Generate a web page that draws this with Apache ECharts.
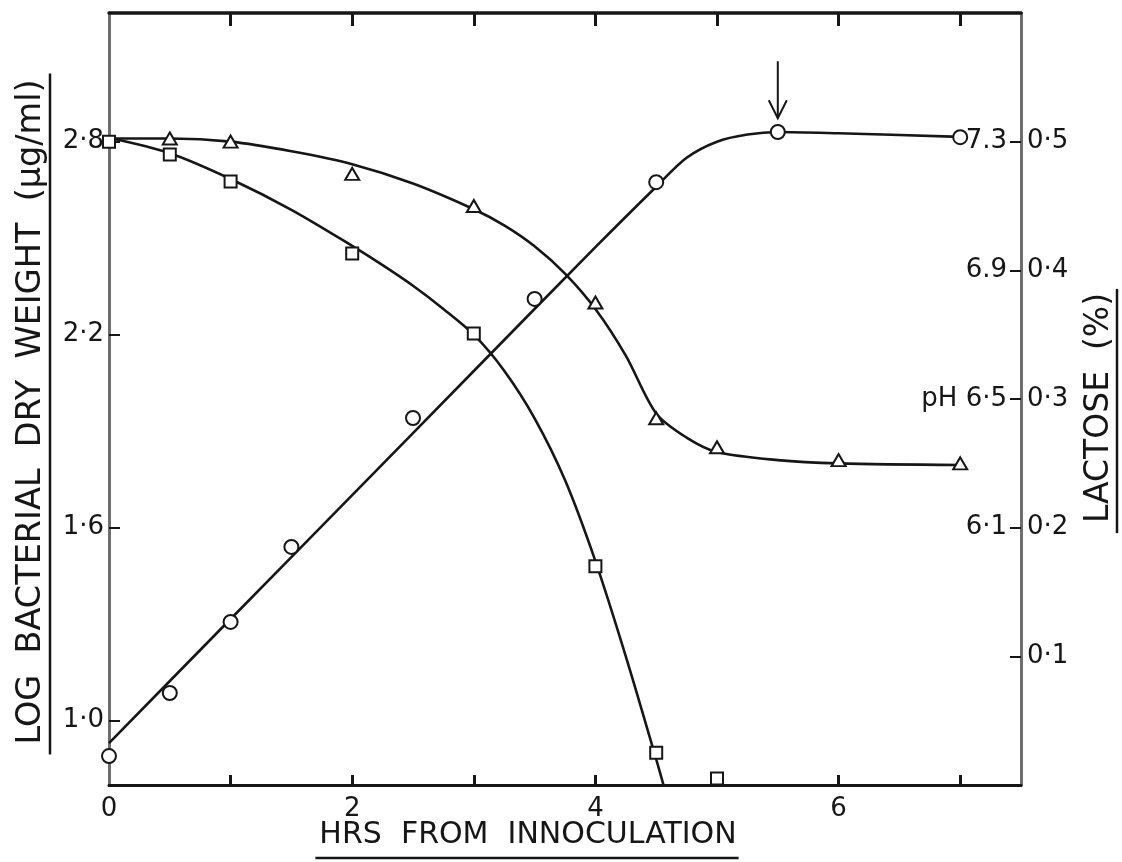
<!DOCTYPE html>
<html>
<head>
<meta charset="utf-8">
<script src="https://cdn.jsdelivr.net/npm/echarts@6/dist/echarts.min.js"></script>
<style>
  html, body { margin: 0; padding: 0; background: #fff; }
  #chart { width: 1122px; height: 862px; }
</style>
</head>
<body>
<div id="chart"></div>
<script>
// Hours after inoculation (x axis)
const hourTicks = [1, 2, 3, 4, 5, 6, 7];
const hourLabels = [0, 2, 4, 6];

// Log bacterial dry weight (µg/ml) – open circles, left axis
const weightHours = [0, 0.5, 1, 1.5, 2.5, 3.5, 4.5, 5.5, 7];
const weightValues = [0.89, 1.086, 1.307, 1.54, 1.941, 2.311, 2.674, 2.83, 2.814];
// hand-fitted growth curve
const weightCurveHours = [0, 1, 2, 3, 4, 4.5, 4.75, 5, 5.25, 5.5, 6, 7];
const weightCurveValues = [0.93, 1.316, 1.701, 2.087, 2.472, 2.66, 2.75, 2.80, 2.822, 2.83, 2.826, 2.815];
const weightTicks = [1.0, 1.6, 2.2, 2.8];

// Lactose (%) – open squares, right axis
const lactoseHours = [0, 0.5, 1, 2, 3, 4, 4.5, 5];
const lactoseValues = [0.50, 0.49, 0.469, 0.413, 0.351, 0.170, 0.025, 0.005];
const lactoseCurveHours = [0, 0.5, 1, 1.5, 2, 2.25, 2.5, 2.75, 3, 3.25, 3.5, 3.75, 4, 4.25, 4.5, 4.56];
const lactoseCurveValues = [0.503, 0.491, 0.471, 0.447, 0.419, 0.404, 0.388, 0.370, 0.350, 0.322, 0.285, 0.237, 0.174, 0.100, 0.020, 0.0];
const lactoseTicks = [0.1, 0.2, 0.3, 0.4, 0.5];

// pH – open triangles, inner right scale
const phHours = [0.5, 1, 2, 3, 4, 4.5, 5, 6, 7];
const phValues = [7.31, 7.30, 7.20, 7.10, 6.80, 6.44, 6.35, 6.31, 6.30];
const phCurveHours = [0, 0.5, 1, 1.5, 2, 2.5, 3, 3.25, 3.5, 3.75, 4, 4.25, 4.5, 4.75, 5, 5.5, 6, 7];
const phCurveValues = [7.31, 7.31, 7.30, 7.27, 7.23, 7.17, 7.09, 7.04, 6.975, 6.89, 6.78, 6.635, 6.455, 6.38, 6.335, 6.31, 6.30, 6.295];
const phTicks = [6.1, 6.5, 6.9, 7.3];
const phTickText = { '6.1': '6·1', '6.5': 'pH 6·5', '6.9': '6.9', '7.3': '7.3' };

// Arrow marking the end of growth: [hour, tip, tail] in log-weight units
const arrowMark = [[5.5, 2.873, 3.05]];

// Axis titles
const xTitle = 'HRS  FROM  INNOCULATION';
const yLeftTitle = 'LOG  BACTERIAL  DRY  WEIGHT  (µg/ml)';
const yRightTitle = 'LACTOSE  (%)';

const zip = (xs, ys) => xs.map((x, i) => [x, ys[i]]);
const dot = v => v.toFixed(1).replace('.', '·');

const INK = '#161616';
const GREY = '#6e6e6e';
const FONT = '"DejaVu Sans", sans-serif';

function textWidth(str, font) {
  const ctx = document.createElement('canvas').getContext('2d');
  ctx.font = font;
  return ctx.measureText(str).width;
}

const chart = echarts.init(document.getElementById('chart'), null, { renderer: 'canvas' });

const markerStyle = { color: '#fff', borderColor: INK, borderWidth: 2, opacity: 1 };
const curveStyle = { color: INK, width: 2.6 };

// title geometry
const xTitleFont = '30px "DejaVu Sans"';
const ylTitleFont = '33.5px "DejaVu Sans"';
const yrTitleFont = '33px "DejaVu Sans"';
const xTitleW = textWidth(xTitle, xTitleFont);
const ylTitleW = textWidth(yLeftTitle, ylTitleFont);
const yrTitleW = textWidth(yRightTitle, yrTitleFont);
const xTitleCx = 528, xTitleBase = 850;
const ylCx = 31, ylCy = 412;
const yrCx = 1099, yrCy = 408;

const option = {
  animation: false,
  backgroundColor: '#fff',
  grid: { left: 109, right: 101, top: 13, bottom: 77, containLabel: false, outerBoundsMode: 'none' },
  xAxis: [
    {
      type: 'value', position: 'bottom', min: 0, max: 7.5,
      axisLine: { show: true, onZero: false, lineStyle: { color: INK, width: 3 } },
      axisTick: { show: true, inside: true, length: 10, customValues: hourTicks, lineStyle: { color: INK, width: 3 } },
      axisLabel: { customValues: hourLabels, fontSize: 26, fontFamily: FONT, color: INK, margin: 11 },
      splitLine: { show: false }
    },
    {
      type: 'value', position: 'top', min: 0, max: 7.5,
      axisLine: { show: true, onZero: false, lineStyle: { color: INK, width: 3.5 } },
      axisTick: { show: true, inside: true, length: 13, customValues: hourTicks, lineStyle: { color: INK, width: 3 } },
      axisLabel: { show: false },
      splitLine: { show: false }
    }
  ],
  yAxis: [
    {
      type: 'value', position: 'left', min: 0.8, max: 3.2,
      axisLine: { show: true, onZero: false, lineStyle: { color: GREY, width: 3 } },
      axisTick: { show: true, inside: true, length: 11, customValues: weightTicks, lineStyle: { color: INK, width: 2 } },
      axisLabel: { customValues: weightTicks, formatter: v => dot(v), fontSize: 26, fontFamily: FONT, color: INK, margin: 5 },
      splitLine: { show: false }
    },
    {
      type: 'value', position: 'right', min: 0, max: 0.6,
      axisLine: { show: true, onZero: false, lineStyle: { color: GREY, width: 3 } },
      axisTick: { show: true, inside: true, length: 11, customValues: lactoseTicks, lineStyle: { color: INK, width: 2 } },
      axisLabel: { customValues: lactoseTicks, formatter: v => dot(v), fontSize: 26, fontFamily: FONT, color: INK, margin: 6 },
      splitLine: { show: false }
    },
    {
      type: 'value', position: 'right', min: 5.3, max: 7.7,
      axisLine: { show: false },
      axisTick: { show: false },
      axisLabel: {
        inside: true, customValues: phTicks,
        formatter: v => phTickText[v.toFixed(1)] || dot(v),
        fontSize: 26, fontFamily: FONT, color: INK, margin: 14
      },
      splitLine: { show: false }
    }
  ],
  series: [
    {
      name: 'lactose curve', type: 'line', xAxisIndex: 0, yAxisIndex: 1,
      data: zip(lactoseCurveHours, lactoseCurveValues),
      showSymbol: false, smooth: 0.3, lineStyle: curveStyle, z: 2
    },
    {
      name: 'pH curve', type: 'line', xAxisIndex: 0, yAxisIndex: 2,
      data: zip(phCurveHours, phCurveValues),
      showSymbol: false, smooth: 0.3, lineStyle: curveStyle, z: 2
    },
    {
      name: 'weight curve', type: 'line', xAxisIndex: 0, yAxisIndex: 0,
      data: zip(weightCurveHours, weightCurveValues),
      showSymbol: false, smooth: 0.3, lineStyle: curveStyle, z: 2
    },
    {
      name: 'Lactose', type: 'scatter', xAxisIndex: 0, yAxisIndex: 1,
      data: zip(lactoseHours, lactoseValues),
      symbol: 'rect', symbolSize: 12, itemStyle: markerStyle, z: 4, clip: false
    },
    {
      name: 'pH', type: 'scatter', xAxisIndex: 0, yAxisIndex: 2,
      data: zip(phHours, phValues),
      symbol: 'triangle', symbolSize: [14, 12], itemStyle: markerStyle, z: 4
    },
    {
      name: 'Log dry weight', type: 'scatter', xAxisIndex: 0, yAxisIndex: 0,
      data: zip(weightHours, weightValues),
      symbol: 'circle', symbolSize: 14, itemStyle: markerStyle, z: 4, clip: false
    },
    {
      name: 'arrow', type: 'custom', xAxisIndex: 0, yAxisIndex: 0, clip: false, z: 5,
      data: arrowMark,
      renderItem: (params, api) => {
        const tip = api.coord([api.value(0), api.value(1)]);
        const tail = api.coord([api.value(0), api.value(2)]);
        const st = { stroke: INK, lineWidth: 2, fill: null };
        return {
          type: 'group',
          children: [
            { type: 'line', shape: { x1: tip[0], y1: tail[1], x2: tip[0], y2: tip[1] }, style: st },
            { type: 'polyline', shape: { points: [[tip[0] - 9, tip[1] - 18], [tip[0], tip[1]], [tip[0] + 9, tip[1] - 18]] }, style: st }
          ]
        };
      }
    }
  ],
  graphic: [
    {
      type: 'text', x: xTitleCx, y: xTitleBase,
      style: { text: xTitle, font: xTitleFont, fill: INK, align: 'center', verticalAlign: 'bottom' }
    },
    {
      type: 'line', shape: { x1: xTitleCx - xTitleW / 2 - 4, y1: 858, x2: xTitleCx + xTitleW / 2 + 2, y2: 858 },
      style: { stroke: INK, lineWidth: 2.5 }
    },
    {
      type: 'text', x: ylCx, y: ylCy, rotation: Math.PI / 2,
      style: { text: yLeftTitle, font: ylTitleFont, fill: INK, align: 'center', verticalAlign: 'middle' }
    },
    {
      type: 'line', shape: { x1: 50, y1: ylCy - ylTitleW / 2 - 6, x2: 50, y2: ylCy + ylTitleW / 2 + 10 },
      style: { stroke: INK, lineWidth: 2.5 }
    },
    {
      type: 'text', x: yrCx, y: yrCy, rotation: Math.PI / 2,
      style: { text: yRightTitle, font: yrTitleFont, fill: INK, align: 'center', verticalAlign: 'middle' }
    },
    {
      type: 'line', shape: { x1: 1117, y1: yrCy - yrTitleW / 2 - 4, x2: 1117, y2: yrCy + yrTitleW / 2 + 10 },
      style: { stroke: INK, lineWidth: 2.5 }
    }
  ]
};

chart.setOption(option);
</script>
</body>
</html>
